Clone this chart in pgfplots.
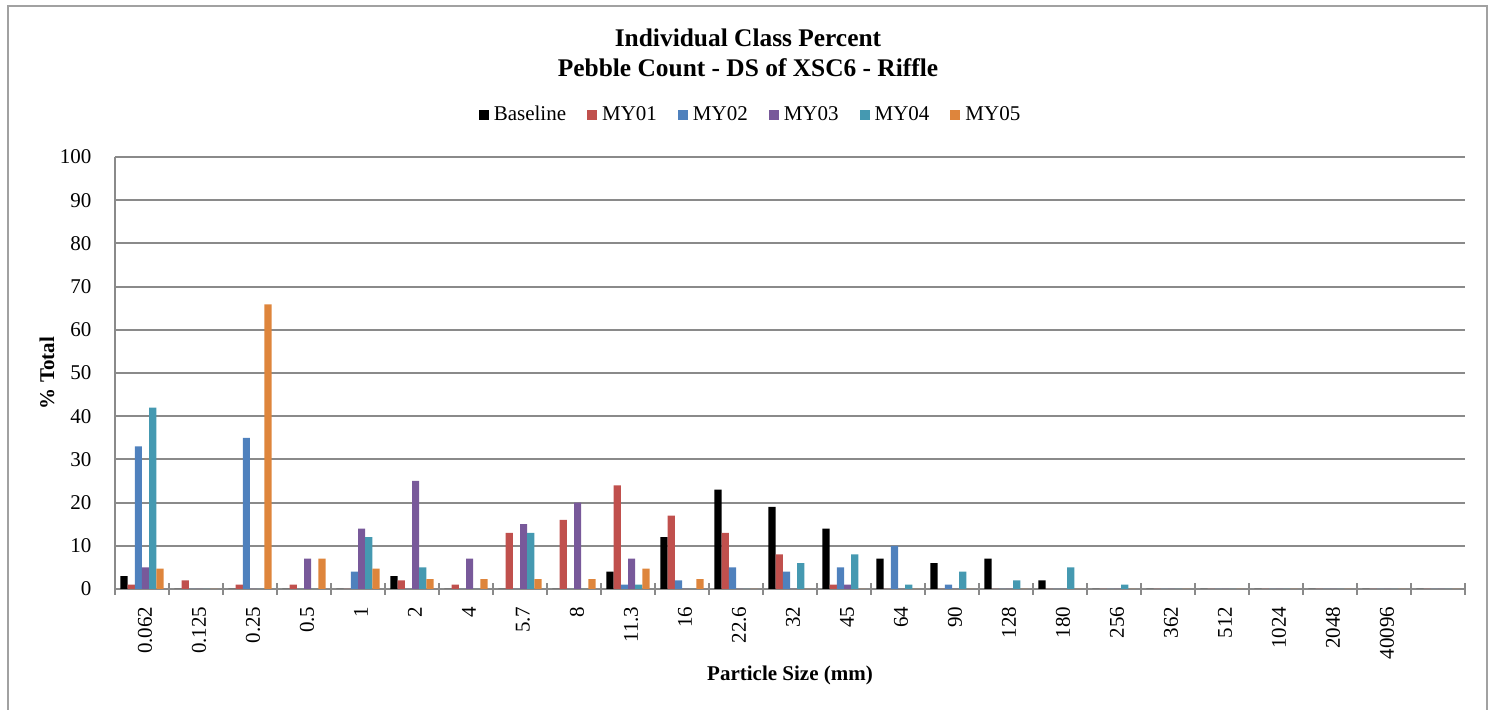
\documentclass[border=0pt]{standalone}
\usepackage{fontspec}
\setmainfont{Liberation Serif}
\usepackage{pgfplots}
\usepackage{pgfplotstable}
\pgfplotsset{compat=1.18}
\definecolor{cBase}{HTML}{000000}
\definecolor{cMYa}{HTML}{C0504D}
\definecolor{cMYb}{HTML}{4F81BD}
\definecolor{cMYc}{HTML}{78599A}
\definecolor{cMYd}{HTML}{4599B1}
\definecolor{cMYe}{HTML}{DE853C}
\definecolor{axgray}{HTML}{8A8A8A}
\pgfplotstableread{
x Base MY01 MY02 MY03 MY04 MY05
0 3 1 33 5 42 4.7
1 0 2 0 0 0 0
2 0 1 35 0 0 65.9
3 0 1 0 7 0 7.0
4 0 0 4 14 12 4.7
5 3 2 0 25 5 2.3
6 0 1 0 7 0 2.3
7 0 13 0 15 13 2.3
8 0 16 0 20 0 2.3
9 4 24 1 7 1 4.7
10 12 17 2 0 0 2.3
11 23 13 5 0 0 0
12 19 8 4 0 6 0
13 14 1 5 1 8 0
14 7 0 10 0 1 0
15 6 0 1 0 4 0
16 7 0 0 0 2 0
17 2 0 0 0 5 0
18 0 0 0 0 1 0
19 0 0 0 0 0 0
20 0 0 0 0 0 0
21 0 0 0 0 0 0
22 0 0 0 0 0 0
23 0 0 0 0 0 0
24 0 0 0 0 0 0
}\datatable
\begin{document}
\fontsize{10.5pt}{12.6pt}\selectfont
\begin{tikzpicture}
\useasboundingbox (0,0) rectangle (748pt,355pt);
\draw[color=axgray!80, line width=1pt] (4pt,-3pt) -- (4pt,352pt) -- (743.5pt,352pt) -- (743.5pt,-3pt);
\node[font=\fontsize{12.7pt}{15pt}\selectfont\bfseries, align=center] at (374pt,328.5pt) {Individual Class Percent\\[0pt]Pebble Count - DS of XSC6 - Riffle};
\begin{axis}[
  at={(57.5pt,60.5pt)}, anchor=south west,
  scale only axis, width=675pt, height=216pt,
  xmin=-0.5, xmax=24.5, ymin=0, ymax=100,
  axis x line*=bottom, axis y line*=left,
  axis line style={draw=axgray, line width=1pt, -},
  xtick={0,...,24},
  xticklabels={0.062,0.125,0.25,0.5,1,2,4,5.7,8,11.3,16,22.6,32,45,64,90,128,180,256,362,512,1024,2048,40096,{}},
  minor xtick={-0.5,0.5,...,24.5},
  major x tick style={draw=none},
  minor x tick style={draw=axgray, line width=1pt},
  minor tick length=6pt,
  tick align=center,
  ytick={0,10,...,100},
  ytick style={draw=none},
  ymajorgrids,
  major grid style={draw=axgray, line width=1pt},
  /pgf/number format/assume math mode=true,
  ticklabel style={font=\fontsize{10.5pt}{12pt}\selectfont},
  xticklabel style={rotate=90, anchor=east, inner sep=0pt, yshift=-1.5pt},
  xticklabel shift=6.5pt,
  yticklabel style={anchor=east, inner sep=0pt, xshift=-9.5pt},
  xlabel={Particle Size (mm)},
  ylabel={\% Total},
  every axis x label/.style={at={(axis description cs:0.5,-0.199)}, anchor=center, font=\fontsize{10.5pt}{12pt}\selectfont\bfseries},
  every axis y label/.style={at={(axis description cs:-0.0504,0.5)}, rotate=90, anchor=center, font=\fontsize{10.5pt}{12pt}\selectfont\bfseries},
  legend columns=6,
  legend style={at={(0.4719,1.0972)}, anchor=center, draw=none, fill=none,
    font=\fontsize{10.5pt}{12pt}\selectfont,
    nodes={inner xsep=2.5pt, inner ysep=0pt},
    /tikz/every even column/.append style={column sep=8pt}},
  legend image code/.code={\fill[#1] (0pt,-2.5pt) rectangle (5pt,2.5pt);},
  clip=false,
]
\addplot[ybar, fill=cBase, draw=none, bar width=0.134, bar shift=-0.335] table[x=x,y=Base] {\datatable};
\addlegendentry{Baseline}
\addplot[ybar, fill=cMYa, draw=none, bar width=0.134, bar shift=-0.201] table[x=x,y=MY01] {\datatable};
\addlegendentry{MY01}
\addplot[ybar, fill=cMYb, draw=none, bar width=0.134, bar shift=-0.067] table[x=x,y=MY02] {\datatable};
\addlegendentry{MY02}
\addplot[ybar, fill=cMYc, draw=none, bar width=0.134, bar shift=0.067] table[x=x,y=MY03] {\datatable};
\addlegendentry{MY03}
\addplot[ybar, fill=cMYd, draw=none, bar width=0.134, bar shift=0.201] table[x=x,y=MY04] {\datatable};
\addlegendentry{MY04}
\addplot[ybar, fill=cMYe, draw=none, bar width=0.134, bar shift=0.335] table[x=x,y=MY05] {\datatable};
\addlegendentry{MY05}
\end{axis}
\end{tikzpicture}
\end{document}
